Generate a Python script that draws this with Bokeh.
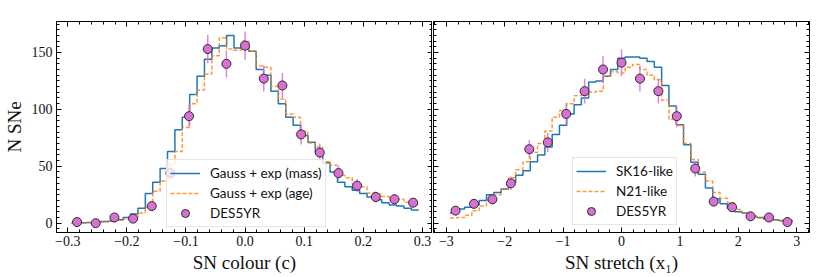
import numpy as np
from bokeh.plotting import figure
from bokeh.layouts import row
from bokeh.models import (LinearAxis, SingleIntervalTicker, CustomJSTickFormatter,
                          Legend, LegendItem, Range1d)
from bokeh.embed import file_html
from bokeh.resources import INLINE

# ---------------- data ----------------
colour_range = (-0.3, 0.3)
stretch_range = (-3.0, 3.0)
n_model_bins = 48
n_data_bins = 19

colour_mass = [0, 0, 0.3, 0.6, 1, 1.5, 2, 3, 5, 8, 13, 26, 36, 48, 63, 82, 93, 113, 129, 144,
               154, 156, 165, 154, 154, 151, 135, 130, 116, 105, 93, 86, 77, 71, 62, 53, 45, 36,
               32, 29, 26, 23, 20.5, 18, 16, 15, 13, 11.5]
colour_age = [0, 0, 0, 0.3, 0.5, 1, 1.5, 2.5, 3.5, 5, 9, 14, 28, 37, 52, 63, 84, 105, 117, 131,
              147, 163, 153, 152, 160, 151, 138, 137, 120, 109, 96, 93, 81, 70.5, 67, 54, 51, 42,
              40, 34.5, 32, 26.5, 25.7, 23.5, 22.4, 21, 18.4, 16]
colour_data = [1, 0, 5, 4, 15, 44, 94, 153, 140, 156, 127, 121, 78, 62, 44, 33, 23, 21, 18]
colour_err = [1.0, 0.0, 2.2, 2.0, 3.9, 6.6, 9.7, 12.4, 11.8, 12.5, 11.3, 11.0, 8.8, 7.9, 6.6,
              5.7, 4.8, 4.6, 4.2]

stretch_sk16 = [9, 9, 12.5, 14, 16, 20, 25, 27, 30, 36, 42, 46, 54, 60, 67, 78, 86, 96, 104, 110,
                124, 125, 129, 135, 145, 146, 146, 145, 142, 137, 121, 103, 86.5, 69, 53.5, 43,
                31, 21.5, 17, 13, 10, 9, 6, 5, 3.5, 3, 2.3, 2]
stretch_n21 = [4.5, 4.5, 5, 7, 11, 15, 20, 25, 30, 40, 47, 54, 62, 70, 81, 93, 99, 105, 112, 113,
               115, 116, 129, 133, 132, 137, 139.5, 135, 130, 126, 108, 91, 86, 70, 56, 45, 37,
               27, 22, 18, 12, 9, 6.5, 4.5, 3.5, 2.5, 2, 1.5]
stretch_data = [11, 17, 21, 35, 65, 71, 96, 116, 135, 141, 127, 116, 94, 48, 19, 14, 6, 5, 1]
stretch_err = [3.3, 4.1, 4.6, 5.9, 8.1, 8.4, 9.8, 10.8, 11.6, 11.9, 11.3, 10.8, 9.7, 6.9, 4.4,
               3.7, 2.4, 2.2, 1.0]

y_range = (-8.2, 177.2)


def centers(rng, n):
    lo, hi = rng
    w = (hi - lo) / n
    return lo + w * (np.arange(n) + 0.5)


SERIF = "Liberation Serif"
SANS = "Lato"
BLUE = "#1f77b4"
ORANGE = "#ff7f0e"
PINK = "orchid"
FW, FH = 376, 211


def style_axis(ax, show_labels):
    ax.major_tick_in = 5
    ax.major_tick_out = 0
    ax.minor_tick_in = 3
    ax.minor_tick_out = 0
    ax.axis_line_color = "black"
    ax.major_tick_line_color = "black"
    ax.minor_tick_line_color = "black"
    if show_labels:
        ax.major_label_text_font = SERIF
        ax.major_label_text_font_size = "14px"
        ax.major_label_text_color = "#111111"
        ax.major_label_text_line_height = 1.0
    else:
        ax.major_label_text_font_size = "0px"
        ax.major_label_text_color = None
        ax.major_label_text_alpha = 0
        ax.major_label_standoff = 0


def make_panel(xr, bin_range, x_interval, fmt_code, xlabel, left_b, right_b, show_y,
               model_a, model_b, label_a, label_b, data, err, legend_loc):
    p = figure(frame_width=FW, frame_height=FH, x_range=Range1d(*xr),
               y_range=Range1d(*y_range),
               output_backend="svg", toolbar_location=None,
               x_axis_location=None, y_axis_location=None,
               min_border_left=left_b, min_border_right=right_b,
               min_border_top=21, min_border_bottom=44)
    p.grid.visible = False
    p.outline_line_color = "black"
    p.outline_line_width = 1
    p.background_fill_color = "white"

    fmt = CustomJSTickFormatter(code=fmt_code)
    xb = LinearAxis(ticker=SingleIntervalTicker(interval=x_interval, num_minor_ticks=5),
                    formatter=fmt)
    style_axis(xb, True)
    xb.major_label_standoff = 3
    xb.axis_label = xlabel
    xb.axis_label_text_font = SERIF
    xb.axis_label_text_font_size = "19px"
    xb.axis_label_text_font_style = "normal"
    xb.axis_label_text_color = "#111111"
    xb.axis_label_text_line_height = 1.0
    xb.axis_label_standoff = 3
    p.add_layout(xb, "below")

    xt = LinearAxis(ticker=SingleIntervalTicker(interval=x_interval, num_minor_ticks=5))
    style_axis(xt, False)
    p.add_layout(xt, "above")

    yl = LinearAxis(ticker=SingleIntervalTicker(interval=50, num_minor_ticks=10))
    style_axis(yl, show_y)
    if show_y:
        yl.major_label_standoff = 4
        yl.axis_label = "N SNe"
        yl.axis_label_text_font = SERIF
        yl.axis_label_text_font_size = "19px"
        yl.axis_label_text_font_style = "normal"
        yl.axis_label_text_color = "#111111"
        yl.axis_label_text_line_height = 1.0
        yl.axis_label_standoff = 4
    p.add_layout(yl, "left")

    yr = LinearAxis(ticker=SingleIntervalTicker(interval=50, num_minor_ticks=10))
    style_axis(yr, False)
    p.add_layout(yr, "right")

    mx = centers(bin_range, n_model_bins)
    dx = centers(bin_range, n_data_bins)

    ra = p.step(x=mx, y=model_a, mode="before", line_color=BLUE, line_width=1.5)
    rb = p.step(x=mx, y=model_b, mode="before", line_color=ORANGE, line_width=1.5,
                line_dash="4 2", line_alpha=0.8)
    d = np.array(data, dtype=float)
    e = np.array(err, dtype=float)
    p.segment(x0=dx, y0=d - e, x1=dx, y1=d + e, line_color=PINK, line_width=1.5,
              line_alpha=0.85)
    rd = p.scatter(x=dx, y=d, size=9, marker="circle", fill_color=PINK,
                   line_color="#2b2b2b", line_width=1)
    rbar = p.scatter(x=[], y=[], marker="dash", angle=np.pi / 2, size=10,
                     line_color=PINK, line_width=1.5)

    leg = Legend(items=[LegendItem(label=label_a, renderers=[ra]),
                        LegendItem(label=label_b, renderers=[rb]),
                        LegendItem(label="DES5YR", renderers=[rbar, rd])],
                 location=legend_loc)
    leg.label_text_font = SANS
    leg.label_text_font_size = "13.5px"
    leg.label_text_color = "#111111"
    leg.glyph_width = 30
    leg.glyph_height = 20
    leg.label_height = 20
    leg.label_standoff = 10
    leg.padding = 3
    leg.spacing = 0
    leg.margin = 0
    leg.border_line_color = "#cccccc"
    leg.border_line_width = 1
    leg.background_fill_alpha = 0.8
    p.add_layout(leg)
    return p


fmt_colour = ("const v = Math.abs(tick) < 1e-9 ? 0 : tick;"
              "return v.toFixed(1).replace('-', '\\u2212');")
fmt_stretch = ("const v = Math.abs(tick) < 1e-9 ? 0 : tick;"
               "return v.toFixed(0).replace('-', '\\u2212');")

p1 = make_panel((-0.319, 0.317), colour_range, 0.1, fmt_colour, "SN colour (c)", 56, 0,
                True, colour_mass, colour_age, "Gauss + exp (mass)", "Gauss + exp (age)",
                colour_data, colour_err, (110, 5))
p2 = make_panel((-3.22, 3.22), stretch_range, 1, fmt_stretch, "SN stretch (x\u2081)", 1, 20,
                False, stretch_sk16, stretch_n21, "SK16-like", "N21-like",
                stretch_data, stretch_err, (139, 7))

layout = row(p1, p2)
open("out.html", "w").write(file_html(layout, INLINE))
